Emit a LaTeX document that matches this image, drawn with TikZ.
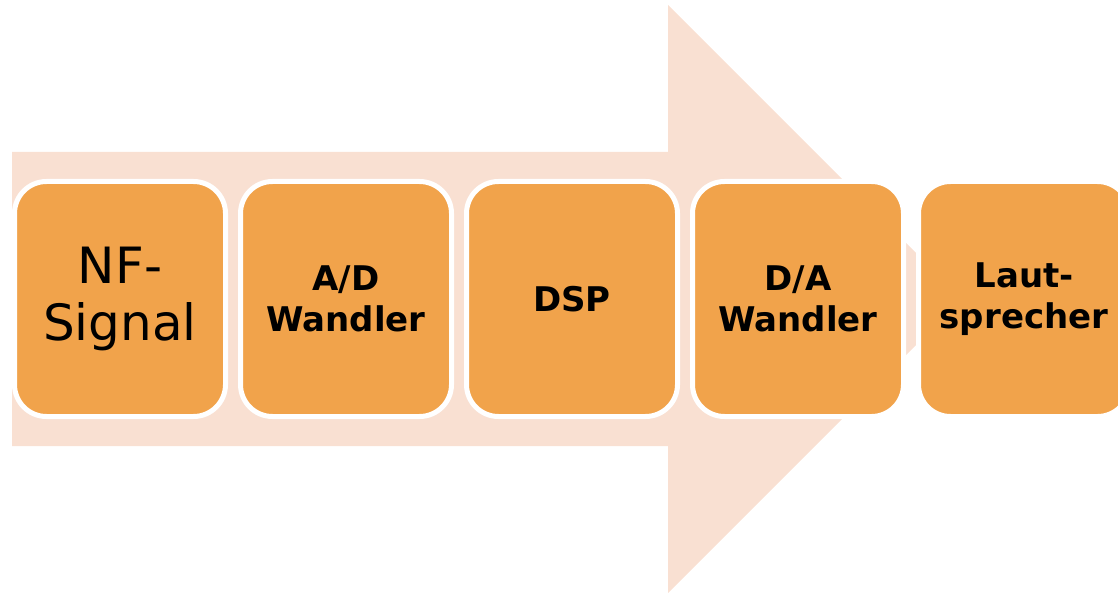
\documentclass[tikz,border=0pt]{standalone}
\usepackage{fontspec}
\setmainfont{DejaVu Sans}
\usetikzlibrary{positioning}
\definecolor{flowpeach}{HTML}{F9E0D2}
\definecolor{steporange}{HTML}{F1A34B}
\tikzset{
    stagebox/.style={draw=white, line width=2.5pt, fill=steporange,
        rounded corners=16pt, minimum width=105.5pt, minimum height=117.5pt,
        inner sep=0pt, align=center,
        font=\bfseries\fontsize{17}{20.5}\selectfont},
    bigtext/.style={font=\fontsize{25}{28.5}\selectfont}
}
\begin{document}
\begin{tikzpicture}[x=0.5pt, y=-0.5pt, node distance=5pt]
    \useasboundingbox (0,0) rectangle (1118,593);
    \clip (0,0) rectangle (1118,593);
    % arrow in the background
    \fill[flowpeach] (12,152) -- (668,152) -- (668,5) -- (962,299)
        -- (668,593) -- (668,446) -- (12,446) -- cycle;
    % stages
    \node[stagebox, bigtext] (nf) at (120,299) {NF-\\Signal};
    \node[stagebox, right=of nf] (ad) {A/D\\Wandler};
    \node[stagebox, right=of ad] (dsp) {DSP};
    \node[stagebox, right=of dsp] (da) {D/A\\Wandler};
    \node[stagebox, right=of da] (ls) {Laut-\\sprecher};
\end{tikzpicture}
\end{document}
